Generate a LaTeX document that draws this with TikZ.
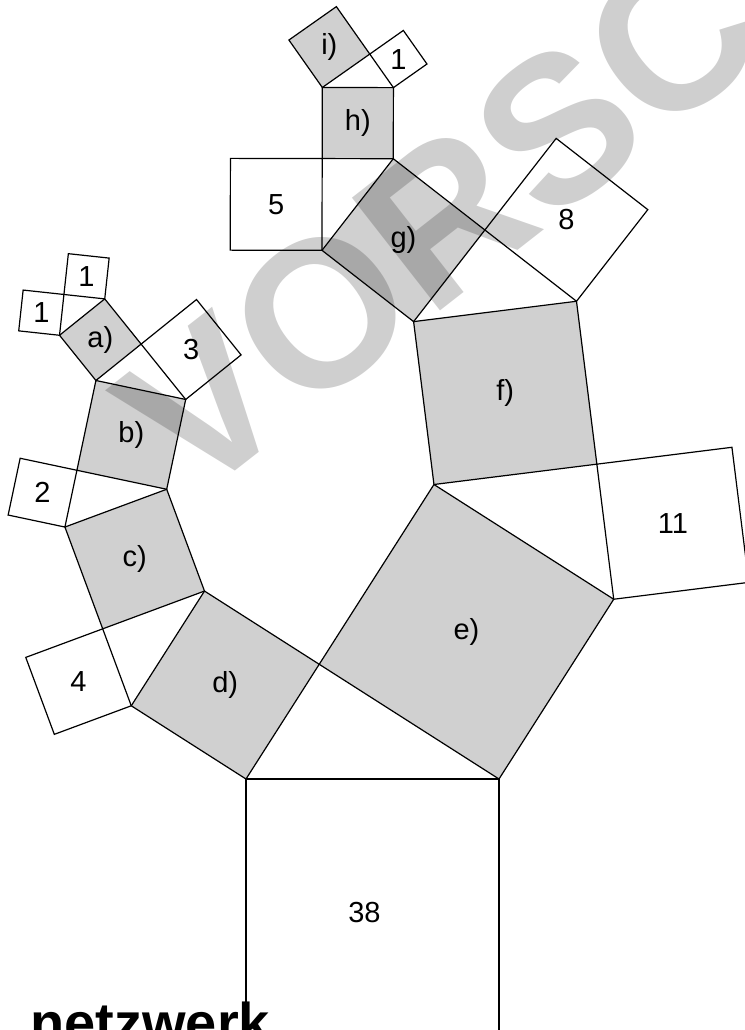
\documentclass[tikz,border=0pt]{standalone}
\usepackage{fontspec}
\setmainfont{Liberation Sans}
\usetikzlibrary{calc}
\definecolor{sqgray}{RGB}{208,208,208}
\tikzset{
  plain/.style={draw=black,line width=0.6pt},
  shaded/.style={plain,fill=sqgray},
  lab/.style={inner sep=0pt,font=\fontsize{14.5}{16}\selectfont}
}
\begin{document}
\begin{tikzpicture}[x=0.5pt,y=-0.5pt]
  \useasboundingbox (0,0) rectangle (745,1030);
  \clip (0,0) rectangle (745,1030);

  % square 38 and first triangle
  \coordinate (L0) at (246,779);
  \coordinate (R0) at (499,779);
  \coordinate (B1) at ($(L0)!1!-90:(R0)$);
  \coordinate (B2) at ($(R0)!1!90:(L0)$);
  \coordinate (P0) at ($(L0)!{sqrt(11/38)}!{acos(sqrt(11/38))}:(R0)$);
  \coordinate (d3) at ($(P0)!1!-90:(L0)$);
  \coordinate (d4) at ($(L0)!1!90:(P0)$);
  \coordinate (e3) at ($(R0)!1!-90:(P0)$);
  \coordinate (e4) at ($(P0)!1!90:(R0)$);

  % left branch: d) c) b) a)
  \coordinate (P1) at ($(d4)!{sqrt(4/11)}!{acos(sqrt(4/11))}:(d3)$);
  \coordinate (q3) at ($(P1)!1!-90:(d4)$); % 4
  \coordinate (q4) at ($(d4)!1!90:(P1)$);
  \coordinate (c3) at ($(d3)!1!-90:(P1)$);
  \coordinate (c4) at ($(P1)!1!90:(d3)$);
  \coordinate (P2) at ($(c4)!{sqrt(2/7)}!{acos(sqrt(2/7))}:(c3)$);
  \coordinate (t3) at ($(P2)!1!-90:(c4)$); % 2
  \coordinate (t4) at ($(c4)!1!90:(P2)$);
  \coordinate (b3) at ($(c3)!1!-90:(P2)$);
  \coordinate (b4) at ($(P2)!1!90:(c3)$);
  \coordinate (P3) at ($(b4)!{sqrt(2/5)}!{acos(sqrt(2/5))}:(b3)$);
  \coordinate (a3) at ($(P3)!1!-90:(b4)$);
  \coordinate (a4) at ($(b4)!1!90:(P3)$);
  \coordinate (r3) at ($(b3)!1!-90:(P3)$); % 3
  \coordinate (r4) at ($(P3)!1!90:(b3)$);
  \coordinate (P4) at ($(a4)!{sqrt(1/2)}!45:(a3)$);
  \coordinate (u3) at ($(P4)!1!-90:(a4)$); % 1 left
  \coordinate (u4) at ($(a4)!1!90:(P4)$);
  \coordinate (v3) at ($(a3)!1!-90:(P4)$); % 1 top
  \coordinate (v4) at ($(P4)!1!90:(a3)$);

  % right branch: e) f) g) h) i)
  \coordinate (P5) at ($(e4)!{sqrt(16/27)}!{acos(sqrt(16/27))}:(e3)$);
  \coordinate (f3) at ($(P5)!1!-90:(e4)$);
  \coordinate (f4) at ($(e4)!1!90:(P5)$);
  \coordinate (k3) at ($(e3)!1!-90:(P5)$); % 11
  \coordinate (k4) at ($(P5)!1!90:(e3)$);
  \coordinate (P6) at ($(f4)!{sqrt(1/2)}!45:(f3)$);
  \coordinate (g3) at ($(P6)!1!-90:(f4)$);
  \coordinate (g4) at ($(f4)!1!90:(P6)$);
  \coordinate (m3) at ($(f3)!1!-90:(P6)$); % 8
  \coordinate (m4) at ($(P6)!1!90:(f3)$);
  \coordinate (P7) at ($(g4)!{sqrt(5/8)}!{acos(sqrt(5/8))}:(g3)$);
  \coordinate (n3) at ($(P7)!1!-90:(g4)$); % 5
  \coordinate (n4) at ($(g4)!1!90:(P7)$);
  \coordinate (h3) at ($(g3)!1!-90:(P7)$);
  \coordinate (h4) at ($(P7)!1!90:(g3)$);
  \coordinate (P8) at ($(h4)!{sqrt(2/3)}!{acos(sqrt(2/3))}:(h3)$);
  \coordinate (i3) at ($(P8)!1!-90:(h4)$);
  \coordinate (i4) at ($(h4)!1!90:(P8)$);
  \coordinate (o3) at ($(h3)!1!-90:(P8)$); % 1 right
  \coordinate (o4) at ($(P8)!1!90:(h3)$);

  %squares
  \draw[plain] (R0) -- (L0) -- (B1) -- (B2) -- cycle;
  \draw[shaded] (L0) -- (P0) -- (d3) -- (d4) -- cycle;
  \draw[shaded] (P0) -- (R0) -- (e3) -- (e4) -- cycle;
  \draw[plain] (d4) -- (P1) -- (q3) -- (q4) -- cycle;
  \draw[shaded] (P1) -- (d3) -- (c3) -- (c4) -- cycle;
  \draw[plain] (c4) -- (P2) -- (t3) -- (t4) -- cycle;
  \draw[shaded] (P2) -- (c3) -- (b3) -- (b4) -- cycle;
  \draw[shaded] (b4) -- (P3) -- (a3) -- (a4) -- cycle;
  \draw[plain] (P3) -- (b3) -- (r3) -- (r4) -- cycle;
  \draw[plain] (a4) -- (P4) -- (u3) -- (u4) -- cycle;
  \draw[plain] (P4) -- (a3) -- (v3) -- (v4) -- cycle;
  \draw[shaded] (e4) -- (P5) -- (f3) -- (f4) -- cycle;
  \draw[plain] (P5) -- (e3) -- (k3) -- (k4) -- cycle;
  \draw[shaded] (f4) -- (P6) -- (g3) -- (g4) -- cycle;
  \draw[plain] (P6) -- (f3) -- (m3) -- (m4) -- cycle;
  \draw[plain] (g4) -- (P7) -- (n3) -- (n4) -- cycle;
  \draw[shaded] (P7) -- (g3) -- (h3) -- (h4) -- cycle;
  \draw[shaded] (h4) -- (P8) -- (i3) -- (i4) -- cycle;
  \draw[plain] (P8) -- (h3) -- (o3) -- (o4) -- cycle;

  %labels
  \node[lab,xshift=-4pt,yshift=-3.5pt] (t38) at ($(R0)!0.5!(B1)$) {38};
  \node[lab] (td) at ($(L0)!0.5!(d3)$) {d)};
  \node[lab] (te) at ($(P0)!0.5!(e3)$) {e)};
  \node[lab] (t4) at ($(d4)!0.5!(q3)$) {4};
  \node[lab] (tc) at ($(P1)!0.5!(c3)$) {c)};
  \node[lab] (t2) at ($(c4)!0.5!(t3)$) {2};
  \node[lab] (tb) at ($(P2)!0.5!(b3)$) {b)};
  \node[lab] (ta) at ($(b4)!0.5!(a3)$) {a)};
  \node[lab] (t3) at ($(P3)!0.5!(r3)$) {3};
  \node[lab] (t1a) at ($(a4)!0.5!(u3)$) {1};
  \node[lab] (t1b) at ($(P4)!0.5!(v3)$) {1};
  \node[lab] (tf) at ($(e4)!0.5!(f3)$) {f)};
  \node[lab] (t11) at ($(P5)!0.5!(k3)$) {11};
  \node[lab] (tg) at ($(f4)!0.5!(g3)$) {g)};
  \node[lab] (t8) at ($(P6)!0.5!(m3)$) {8};
  \node[lab] (t5) at ($(g4)!0.5!(n3)$) {5};
  \node[lab] (th) at ($(P7)!0.5!(h3)$) {h)};
  \node[lab] (ti) at ($(h4)!0.5!(i3)$) {i)};
  \node[lab] (t1c) at ($(P8)!0.5!(o3)$) {1};

  % footer and watermark
  \node[anchor=base west,inner sep=0pt,font=\fontsize{28}{30}\bfseries] (brand) at (30,1042) {netzwerk};
  \node[anchor=base west,inner sep=0pt,rotate=38,text=black,text opacity=0.19,
        font=\fontsize{104}{104}\bfseries] (wmark) at (192,505) {VORSCHAU};
\end{tikzpicture}
\end{document}
